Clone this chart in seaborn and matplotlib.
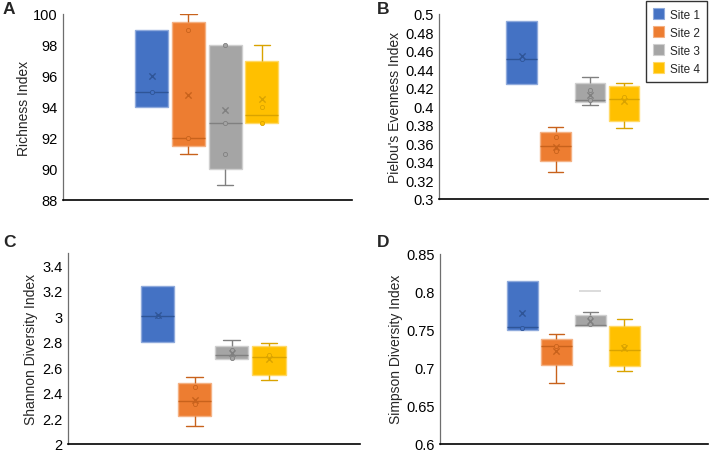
import numpy as np
import pandas as pd
import seaborn as sns
import matplotlib.pyplot as plt
from matplotlib.patches import Patch
from matplotlib.ticker import FuncFormatter

sns.set_style("white")
plt.rcParams['font.family'] = ['Liberation Sans', 'DejaVu Sans']

sites = ['Site 1', 'Site 2', 'Site 3', 'Site 4']
fills = ['#4472C4', '#ED7D31', '#A5A5A5', '#FFC000']
edges = ['#8FAADC', '#F4B183', '#CFCFCF', '#FFD966']
darks = ['#2F5597', '#C8621C', '#808080', '#D9A300']

# Richness (A): whisker low, Q1, median, Q3, whisker high, mean, inner points
rich_lo = [94, 91, 89, 93]
rich_q1 = [94, 91.5, 90, 93]
rich_med = [95, 92, 93, 93.5]
rich_q3 = [99, 99.5, 98, 97]
rich_hi = [99, 100, 98, 98]
rich_mean = [96, 94.8, 93.8, 94.5]
rich_pts = [[95], [99, 92], [98, 93, 91], [94, 93]]

# Pielou's evenness (B)
even_lo = [0.424, 0.329, 0.4016, 0.3768]
even_q1 = [0.424, 0.3406, 0.4045, 0.3847]
even_med = [0.451, 0.357, 0.407, 0.408]
even_q3 = [0.492, 0.3728, 0.4254, 0.4218]
even_hi = [0.492, 0.378, 0.4316, 0.4254]
even_mean = [0.455, 0.3566, 0.4128, 0.4063]
even_pts = [[0.451], [0.367, 0.352], [0.418, 0.4065], [0.4106]]

# Shannon diversity (C)
shan_lo = [2.796, 2.137, 2.667, 2.501]
shan_q1 = [2.796, 2.218, 2.667, 2.540]
shan_med = [2.999, 2.337, 2.695, 2.680]
shan_q3 = [3.240, 2.477, 2.765, 2.765]
shan_hi = [3.240, 2.522, 2.809, 2.786]
shan_mean = [3.01, 2.342, 2.713, 2.667]
shan_pts = [[2.999], [2.441, 2.311], [2.731, 2.674], [2.695]]

# Simpson diversity (D)
simp_lo = [0.7492, 0.6796, 0.7544, 0.6957]
simp_q1 = [0.7492, 0.7035, 0.7544, 0.7026]
simp_med = [0.7531, 0.7291, 0.7557, 0.7239]
simp_q3 = [0.8139, 0.7378, 0.770, 0.7544]
simp_hi = [0.8139, 0.7448, 0.774, 0.7643]
simp_mean = [0.7727, 0.7226, 0.7617, 0.7261]
simp_pts = [[0.7527], [0.728], [0.766, 0.7574], [0.728]]
simp_out = [[], [], [0.8014], []]


def draw_panel(ax, lo, q1, med, q3, hi, mean, pts, outl=None):
    for i, s in enumerate(sites):
        # five values -> numpy quartiles land exactly on q1/med/q3
        box = pd.DataFrame({'site': s, 'value': [lo[i], q1[i], med[i], q3[i], hi[i]]})
        n_p, n_l = len(ax.patches), len(ax.lines)
        sns.boxplot(data=box, x='site', y='value', order=sites, color=fills[i],
                    linecolor=darks[i], saturation=1, width=0.9, whis=(0, 100),
                    linewidth=1, showfliers=False, ax=ax)
        for p in ax.patches[n_p:]:
            p.set_edgecolor(edges[i])
        # hide zero-length whiskers and their caps
        for ln in ax.lines[n_l:]:
            y = np.asarray(ln.get_ydata(), dtype=float)
            if len(y) == 2 and np.isclose(y[0], y[1]) and not np.isclose(y[0], med[i]):
                if np.isclose(y[0], q1[i]) or np.isclose(y[0], q3[i]):
                    ln.set_visible(False)
        sns.stripplot(x=[s] * len(pts[i]), y=pts[i], order=sites, color=fills[i],
                      edgecolor=darks[i], linewidth=0.6, size=3, jitter=False, ax=ax)
        sns.stripplot(x=[s], y=[mean[i]], order=sites, color=darks[i], edgecolor=darks[i],
                      marker='x', linewidth=1, size=4.5, jitter=False, ax=ax)
        if outl is not None and len(outl[i]):
            sns.stripplot(x=[s] * len(outl[i]), y=outl[i], order=sites, color='#D6D6D6',
                          edgecolor='#D6D6D6', marker='_', linewidth=1.2, size=16,
                          jitter=False, ax=ax)


def style_axes(ax, ylim, step, ylabel, lx, top=None):
    ax.set_xlim(-2.42, 5.46)
    ax.set_ylim(*ylim)
    last = ylim[1] if top is None else top
    ticks = np.round(np.arange(ylim[0], last + 1e-9, step), 4)
    ax.set_yticks(ticks)
    ax.yaxis.set_major_formatter(FuncFormatter(lambda v, _: f"{round(v, 4):g}"))
    ax.set_xticks([])
    ax.set_xlabel('')
    ax.set_ylabel(ylabel, fontsize=10)
    ax.yaxis.set_label_coords(lx, 0.5)
    ax.tick_params(axis='y', length=0, pad=4, labelsize=10.5, colors='black')
    for side in ['top', 'right']:
        ax.spines[side].set_visible(False)
    ax.spines['left'].set_color('#6e6e6e')
    ax.spines['left'].set_linewidth(0.9)
    ax.spines['bottom'].set_color('black')
    ax.spines['bottom'].set_linewidth(1.2)


fig = plt.figure(figsize=(7.09, 4.52), dpi=100)
axA = fig.add_axes([63 / 709, 1 - 201 / 452, 289 / 709, 186 / 452])
axB = fig.add_axes([439 / 709, 1 - 200 / 452, 269 / 709, 185 / 452])
axC = fig.add_axes([68 / 709, 1 - 444.5 / 452, 292 / 709, 191 / 452])
axD = fig.add_axes([440 / 709, 1 - 444.5 / 452, 268 / 709, 189.5 / 452])

draw_panel(axA, rich_lo, rich_q1, rich_med, rich_q3, rich_hi, rich_mean, rich_pts)
draw_panel(axB, even_lo, even_q1, even_med, even_q3, even_hi, even_mean, even_pts)
draw_panel(axC, shan_lo, shan_q1, shan_med, shan_q3, shan_hi, shan_mean, shan_pts)
draw_panel(axD, simp_lo, simp_q1, simp_med, simp_q3, simp_hi, simp_mean, simp_pts, simp_out)

style_axes(axA, (88, 100), 2, 'Richness Index', -0.111)
style_axes(axB, (0.3, 0.5), 0.02, "Pielou's Evenness Index", -0.138)
style_axes(axC, (2, 3.5), 0.2, 'Shannon Diversity Index', -0.103, top=3.4)
style_axes(axD, (0.6, 0.85), 0.05, 'Simpson Diversity Index', -0.138)

for lab, x, y in [('A', 3, 13.5), ('B', 377, 13.5), ('C', 3, 247), ('D', 377, 247)]:
    fig.text(x / 709, 1 - y / 452, lab, fontsize=12.5, fontweight='bold', va='baseline')

handles = [Patch(facecolor=f, edgecolor=e, linewidth=0.8) for f, e in zip(fills, edges)]
leg = fig.legend(handles, sites, loc='upper right', bbox_to_anchor=(707 / 709, 1 - 2 / 452),
                 frameon=True, fancybox=False, fontsize=8.5, handlelength=0.9,
                 handleheight=1.1, handletextpad=0.5, labelspacing=0.45, borderpad=0.6,
                 borderaxespad=0)
leg.get_frame().set_edgecolor('black')
leg.get_frame().set_linewidth(1)

fig.savefig('out.png', dpi=100)
